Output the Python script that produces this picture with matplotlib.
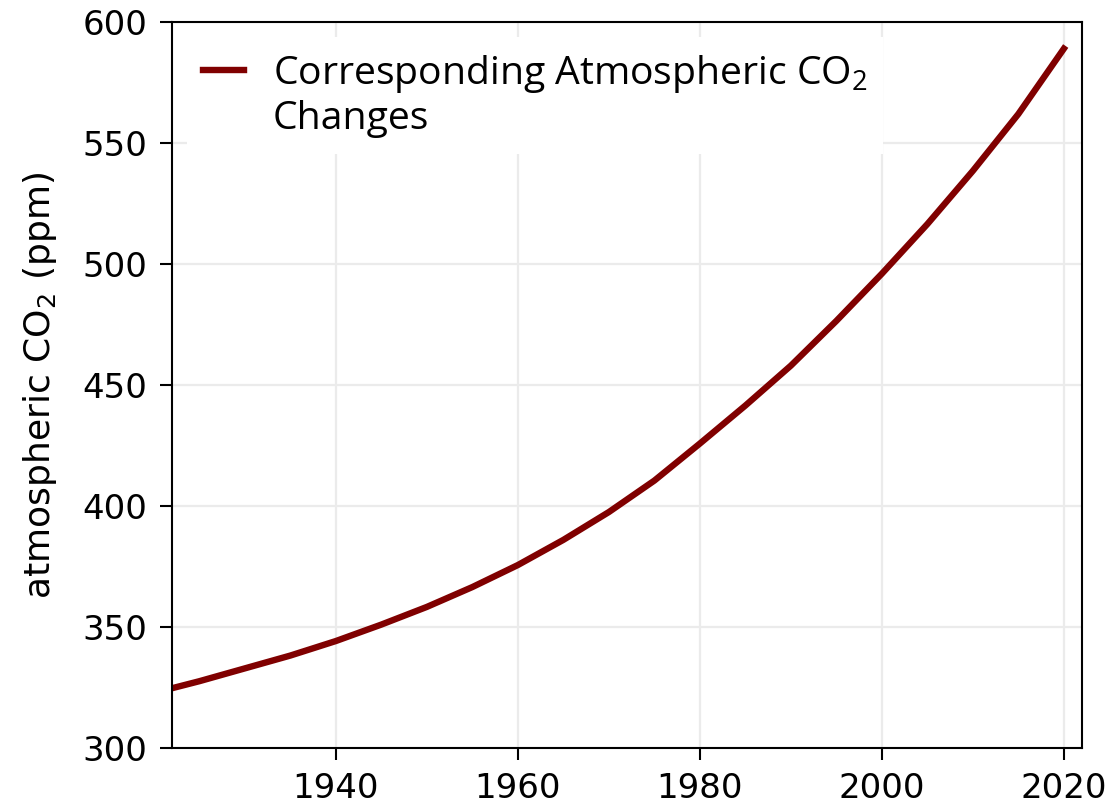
import numpy as np
import matplotlib
matplotlib.use("Agg")
import matplotlib.pyplot as plt
from matplotlib.lines import Line2D

# ============================================================
# DATOS
# ============================================================

anios = [1922, 1925, 1930, 1935, 1940, 1945, 1950, 1955, 1960, 1965, 1970,
         1975, 1980, 1985, 1990, 1995, 2000, 2005, 2010, 2015, 2020]
co2 = [324.7, 327.6, 332.9, 338.2, 344.2, 351.0, 358.3, 366.5, 375.6, 386.0,
       397.5, 410.5, 425.8, 441.5, 458.0, 476.5, 496.0, 516.5, 538.5, 562.0,
       589.0]

etiqueta_1 = "Corresponding Atmospheric CO$_2$"
etiqueta_2 = "Changes"
color_linea = "#800000"

# ============================================================
# FIGURA
# ============================================================

plt.rcParams['mathtext.fontset'] = 'custom'
plt.rcParams['mathtext.rm'] = 'Open Sans'
plt.rcParams['mathtext.it'] = 'Open Sans'

fig = plt.figure(figsize=(11.19, 8.07), dpi=100)
ax = fig.add_axes([0.1537, 0.0731, 0.8133, 0.8996])

linea, = ax.plot(anios, co2, color=color_linea, linewidth=4.6)

ax.set_xlim(1922, 2022)
ax.set_ylim(300, 600)
ax.set_xticks([1940, 1960, 1980, 2000, 2020])
ax.set_yticks([300, 350, 400, 450, 500, 550, 600])

ax.grid(True, color="#ebebeb", linewidth=1.6)
ax.set_axisbelow(True)

for s in ax.spines.values():
    s.set_linewidth(1.5)

ax.tick_params(axis='both', labelsize=24.5, length=8.5, width=1.5, pad=9)

# etiqueta del eje y en DejaVu Sans con subíndice
ax.set_ylabel(r"atmospheric CO$\mathregular{_2}$ (ppm)", fontsize=26,
              family='DejaVu Sans', labelpad=17)
ax.yaxis.label.set_math_fontfamily('dejavusans')

# leyenda: el trazo alineado con la primera línea del texto
vacio = Line2D([], [], color='none')
leg = ax.legend([linea, vacio], [etiqueta_1, etiqueta_2],
                loc='upper left', frameon=True,
                prop={'family': 'Open Sans', 'size': 28.2},
                handlelength=1.05, handletextpad=0.75,
                labelspacing=0.14,
                borderaxespad=0.38, fancybox=False)
leg.get_frame().set_edgecolor('none')
leg.get_frame().set_facecolor('white')
leg.get_frame().set_alpha(1)

fig.savefig("out.png", dpi=100)
